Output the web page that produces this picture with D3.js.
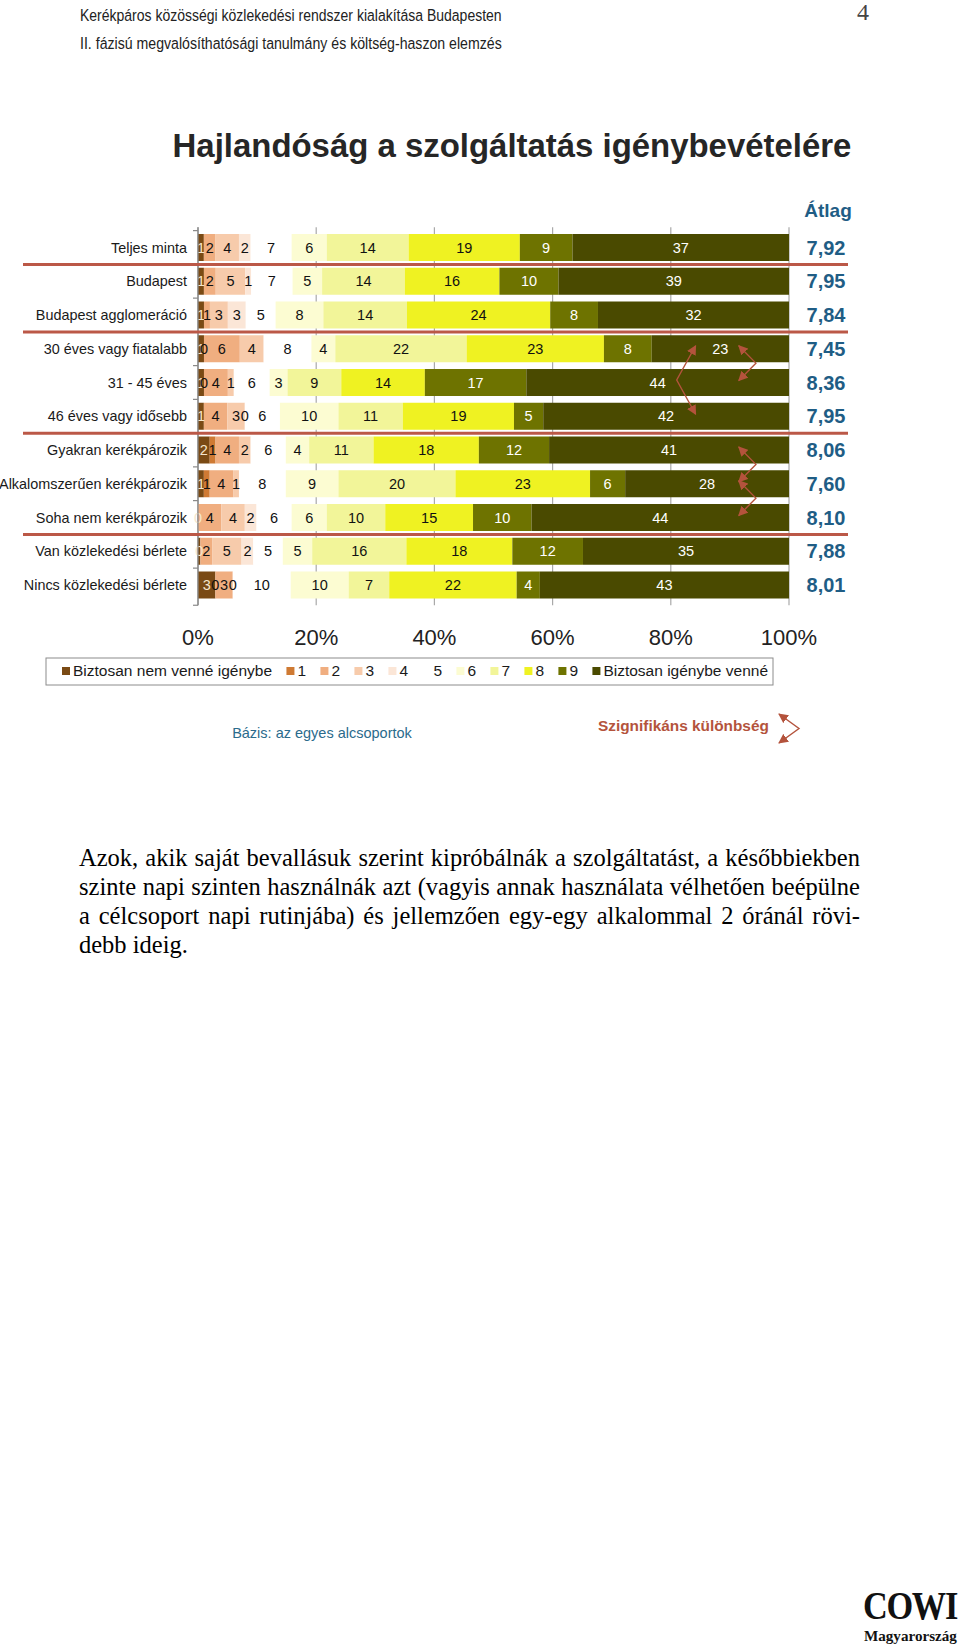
<!DOCTYPE html>
<html><head><meta charset="utf-8">
<script src="https://cdn.jsdelivr.net/npm/d3@7"></script>
<style>body{margin:0;background:#fff} svg{display:block}</style>
</head><body>
<svg id="c" width="960" height="1645"></svg>
<script>
// ---------------- DATA ----------------
const categories = ["Teljes minta","Budapest","Budapest agglomeráció","30 éves vagy fiatalabb","31 - 45 éves","46 éves vagy idősebb","Gyakran kerékpározik","Alkalomszerűen kerékpározik","Soha nem kerékpározik","Van közlekedési bérlete","Nincs közlekedési bérlete"];
const seriesNames = ["Biztosan nem venné igénybe","1","2","3","4","5","6","7","8","9","Biztosan igénybe venné"];
// one array per answer category, values in % per row (null = no answer in that group)
const s0  = [1, 1, 1, 1, 1, 1, 2, 1, 0, 0.4, 3];
const s1  = [null, null, null, 0, 0, null, 1, 1, null, null, 0];
const s2  = [2, 2, 1, 6, 4, 4, 4, 4, 4, 2, 3];
const s3  = [4, 5, 3, 4, 1, 3, 2, 1, 4, 5, 0];
const s4  = [2, 1, 3, null, null, 0, null, null, 2, 2, null];
const s5  = [7, 7, 5, 8, 6, 6, 6, 8, 6, 5, 10];
const s6  = [6, 5, 8, 4, 3, 10, 4, 9, 6, 5, 10];
const s7  = [14, 14, 14, 22, 9, 11, 11, 20, 10, 16, 7];
const s8  = [19, 16, 24, 23, 14, 19, 18, 23, 15, 18, 22];
const s9  = [9, 10, 8, 8, 17, 5, 12, 6, 10, 12, 4];
const s10 = [37, 39, 32, 23, 44, 42, 41, 28, 44, 35, 43];
const averages = [7.92, 7.95, 7.84, 7.45, 8.36, 7.95, 8.06, 7.60, 8.10, 7.88, 8.01];
const tickValues = [0, 0.2, 0.4, 0.6, 0.8, 1];
const separatorsAfter = [0, 2, 5, 8];
// significance pairs (row indices)
const sigPairs = [[3, 5, "left"], [3, 4, "right"], [6, 7, "right"], [7, 8, "right"]];

const series = [s0,s1,s2,s3,s4,s5,s6,s7,s8,s9,s10];
const colors = ["#7a4a14","#cf7a33","#f0ae80","#f7cbab","#fbe6d7","#ffffff","#fcfcd2","#f2f599","#eff222","#6e7300","#4a4a00"];
const labelColors = ["#f6e6cc","#111","#111","#111","#111","#111","#111","#111","#111","#fff","#fff"];

const SANS = "'Liberation Sans', Arial, sans-serif";
const SERIF = "'Liberation Serif', 'Times New Roman', serif";
const RED = "#b4533c";
const BLUE = "#1f5d85";

const svg = d3.select("#c");

function fitWidth(sel, w) {
  const cur = sel.node().getComputedTextLength();
  const fs = parseFloat(sel.attr("font-size"));
  sel.attr("font-size", fs * w / cur);
}
function squeeze(sel, x0, w) {
  const cur = sel.node().getComputedTextLength();
  const k = w / cur;
  sel.attr("x", x0 / k).attr("transform", `scale(${k},1)`);
}
function justify(sel, w) {
  const cur = sel.node().getComputedTextLength();
  const n = (sel.text().match(/ /g) || []).length;
  if (n) sel.attr("word-spacing", (w - cur) / n);
}

// ---------------- HEADER ----------------
const h1 = svg.append("text").attr("y", 15).attr("dy", "0.35em")
  .attr("font-family", SANS).attr("font-size", 17).attr("fill", "#222")
  .text("Kerékpáros közösségi közlekedési rendszer kialakítása Budapesten");
squeeze(h1, 80, 422);
const h2 = svg.append("text").attr("y", 43).attr("dy", "0.35em")
  .attr("font-family", SANS).attr("font-size", 17).attr("fill", "#222")
  .text("II. fázisú megvalósíthatósági tanulmány és költség-haszon elemzés");
squeeze(h2, 80, 422);
svg.append("text").attr("x", 863).attr("y", 12).attr("dy", "0.35em").attr("text-anchor", "middle")
  .attr("font-family", SERIF).attr("font-size", 24).attr("fill", "#444").text("4");

// ---------------- TITLE ----------------
const title = svg.append("text").attr("x", 512).attr("y", 145).attr("dy", "0.35em").attr("text-anchor", "middle")
  .attr("font-family", SANS).attr("font-weight", "bold").attr("font-size", 30).attr("fill", "#262626")
  .text("Hajlandóság a szolgáltatás igénybevételére");
fitWidth(title, 679);

// ---------------- SCALES ----------------
const x = d3.scaleLinear().domain([0, 1]).range([198, 789]);
const y = d3.scaleBand().domain(categories).range([227.25, 605.25]).padding(0.2);
const bw = y.bandwidth();

// gridlines
svg.append("g").selectAll("line").data(tickValues).join("line")
  .attr("x1", d => x(d)).attr("x2", d => x(d))
  .attr("y1", y.range()[0]).attr("y2", y.range()[1])
  .attr("stroke", d => d === 0 ? "#8a8a8a" : "#a9a9a9").attr("stroke-width", 1.2);

// y-axis tick marks at band boundaries
const bounds = categories.map(c => y(c) - y.step() * y.paddingInner() / 2).concat([y.range()[1]]);
svg.append("g").selectAll("line").data(bounds).join("line")
  .attr("x1", x(0) - 5).attr("x2", x(0)).attr("y1", d => d).attr("y2", d => d)
  .attr("stroke", "#8a8a8a").attr("stroke-width", 1.2);

// x axis labels
svg.append("g").selectAll("text").data(tickValues).join("text")
  .attr("x", d => x(d)).attr("y", 637).attr("dy", "0.35em").attr("text-anchor", "middle")
  .attr("font-family", SANS).attr("font-size", 22).attr("fill", "#222")
  .text(d => d3.format(".0%")(d));

// ---------------- BARS ----------------
const rows = categories.map((c, i) => {
  const vals = series.map(s => s[i]);
  const total = d3.sum(vals.filter(v => v != null));
  let cum = 0;
  const segs = [];
  vals.forEach((v, k) => {
    if (v == null) return;
    segs.push({ cat: c, k, v, x0: cum / total, x1: (cum + v) / total });
    cum += v;
  });
  return { cat: c, segs };
});

const rowG = svg.append("g").selectAll("g").data(rows).join("g");
rowG.selectAll("rect").data(d => d.segs).join("rect")
  .attr("x", d => x(d.x0)).attr("width", d => x(d.x1) - x(d.x0))
  .attr("y", d => y(d.cat)).attr("height", bw)
  .attr("fill", d => colors[d.k]);
rowG.selectAll("text").data(d => d.segs).join("text")
  .attr("x", d => x((d.x0 + d.x1) / 2)).attr("y", d => y(d.cat) + bw / 2).attr("dy", "0.35em")
  .attr("text-anchor", "middle").attr("font-family", SANS).attr("font-size", 14.5)
  .attr("fill", d => labelColors[d.k])
  .text(d => d3.format(".0f")(d.v));

// axis line on top
svg.append("line").attr("x1", x(0)).attr("x2", x(0)).attr("y1", y.range()[0]).attr("y2", y.range()[1])
  .attr("stroke", "#8a8a8a").attr("stroke-width", 1.2);

// category labels
svg.append("g").selectAll("text").data(categories).join("text")
  .attr("x", 187).attr("y", d => y(d) + bw / 2).attr("dy", "0.35em").attr("text-anchor", "end")
  .attr("font-family", SANS).attr("font-size", 14.4).attr("fill", "#1a1a1a").text(d => d);

// separators
svg.append("g").selectAll("line").data(separatorsAfter).join("line")
  .attr("x1", 23).attr("x2", 848)
  .attr("y1", i => (y(categories[i]) + bw + y(categories[i + 1])) / 2)
  .attr("y2", i => (y(categories[i]) + bw + y(categories[i + 1])) / 2)
  .attr("stroke", "#bb5847").attr("stroke-width", 3);

// averages
svg.append("text").attr("x", 828).attr("y", 210).attr("dy", "0.35em").attr("text-anchor", "middle")
  .attr("font-family", SANS).attr("font-weight", "bold").attr("font-size", 19).attr("fill", BLUE).text("Átlag");
svg.append("g").selectAll("text").data(averages).join("text")
  .attr("x", 826).attr("y", (d, i) => y(categories[i]) + bw / 2).attr("dy", "0.35em").attr("text-anchor", "middle")
  .attr("font-family", SANS).attr("font-weight", "bold").attr("font-size", 20).attr("fill", BLUE)
  .text(d => d3.format(".2f")(d).replace(".", ","));

// ---------------- SIGNIFICANCE ARROWS ----------------
const defs = svg.append("defs");
defs.append("marker").attr("id", "ah").attr("viewBox", "0 0 10 10").attr("refX", 9).attr("refY", 5)
  .attr("markerWidth", 7).attr("markerHeight", 7).attr("orient", "auto-start-reverse")
  .append("path").attr("d", "M0,0 L10,5 L0,10 z").attr("fill", RED);

function chevron(xe, yTop, xv, yv, yBot) {
  svg.append("path").attr("d", `M${xe},${yTop} L${xv},${yv} L${xe},${yBot}`)
    .attr("fill", "none").attr("stroke", RED).attr("stroke-width", 1.4)
    .attr("marker-start", "url(#ah)").attr("marker-end", "url(#ah)");
}
sigPairs.forEach(([a, b, side]) => {
  const ya = y(categories[a]) + bw / 2 - 3, yb = y(categories[b]) + bw / 2 - 2;
  if (side === "left") chevron(x(0.842), ya, x(0.81), (ya + yb) / 2, yb);
  else chevron(x(0.915), ya, x(0.944), (ya + yb) / 2, yb);
});

// ---------------- LEGEND ----------------
svg.append("rect").attr("x", 46).attr("y", 658).attr("width", 727).attr("height", 27)
  .attr("fill", "#fff").attr("stroke", "#8c8c8c").attr("stroke-width", 1);
const lg = svg.append("g");
const items = lg.selectAll("g").data(seriesNames).join("g");
items.append("rect").attr("width", 8).attr("height", 8).attr("y", 667).attr("fill", (d, i) => colors[i]);
items.append("text").attr("y", 671).attr("dy", "0.35em").attr("font-family", SANS).attr("font-size", 15.5)
  .attr("fill", "#1a1a1a").text(d => d);
const widths = items.select("text").nodes().map(n => n.getComputedTextLength());
const natural = d3.sum(widths) + seriesNames.length * 11;
const gap = (768 - 62 - natural) / (seriesNames.length - 1);
let cx = 62;
items.each(function(d, i) {
  const g = d3.select(this);
  g.select("rect").attr("x", cx);
  g.select("text").attr("x", cx + 11);
  cx += 11 + widths[i] + gap;
});

// Bázis + significance legend
svg.append("text").attr("x", 322).attr("y", 733).attr("dy", "0.35em").attr("text-anchor", "middle")
  .attr("font-family", SANS).attr("font-size", 14.5).attr("fill", "#2b6b8c").text("Bázis: az egyes alcsoportok");
const sz = svg.append("text").attr("x", 598).attr("y", 726).attr("dy", "0.35em")
  .attr("font-family", SANS).attr("font-weight", "bold").attr("font-size", 14).attr("fill", RED)
  .text("Szignifikáns különbség");
fitWidth(sz, 171);
chevron(779, 714, 799, 728.5, 743);

// ---------------- BODY TEXT ----------------
const bodyLines = [
  "Azok, akik saját bevallásuk szerint kipróbálnák a szolgáltatást, a későbbiekben",
  "szinte napi szinten használnák azt (vagyis annak használata vélhetően beépülne",
  "a célcsoport napi rutinjába) és jellemzően egy-egy alkalommal 2 óránál rövi-",
  "debb ideig."
];
const lineY = [857, 886, 915, 944];
bodyLines.forEach((t, i) => {
  const s = svg.append("text").attr("x", 79).attr("y", lineY[i]).attr("dy", "0.35em")
    .attr("font-family", SERIF).attr("font-size", 24.5).attr("fill", "#000").text(t);
  if (i < 3) justify(s, 781);
});

// ---------------- LOGO ----------------
const cowi = svg.append("text").attr("y", 1619)
  .attr("font-family", SERIF).attr("font-weight", "bold").attr("font-size", 40).attr("letter-spacing", -1.5)
  .attr("fill", "#111").text("COWI");
squeeze(cowi, 863, 94);
const mag = svg.append("text").attr("x", 864).attr("y", 1641)
  .attr("font-family", SERIF).attr("font-weight", "bold").attr("font-size", 14)
  .attr("fill", "#111").text("Magyarország");
fitWidth(mag, 93);
</script>
</body></html>
